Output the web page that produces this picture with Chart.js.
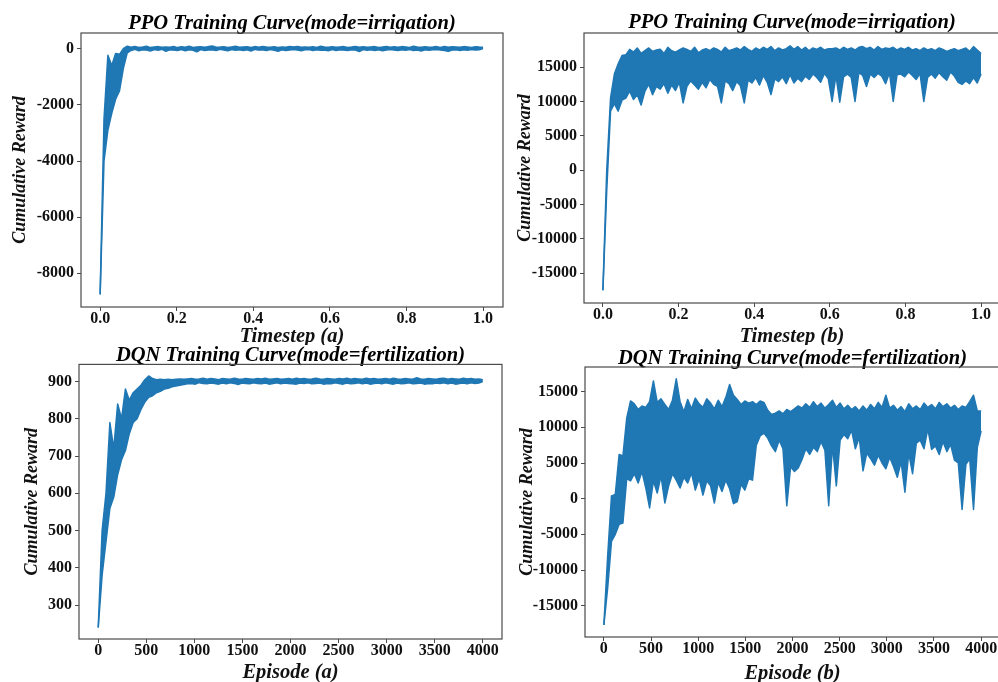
<!DOCTYPE html>
<html>
<head>
<meta charset="utf-8">
<title>Training curves</title>
<script src="https://cdn.jsdelivr.net/npm/chart.js@4.4.1/dist/chart.umd.min.js"></script>
<style>
  html, body { margin: 0; padding: 0; background: #fff; overflow: hidden; }
  body { width: 998px; height: 682px; position: relative; }
  canvas { position: absolute; }
</style>
</head>
<body>
<canvas id="ppoA" width="510" height="345" style="left:0;top:0"></canvas>
<canvas id="ppoB" width="510" height="345" style="left:500px;top:0"></canvas>
<canvas id="dqnA" width="510" height="342" style="left:0;top:340px"></canvas>
<canvas id="dqnB" width="510" height="342" style="left:500px;top:340px"></canvas>
<script>
// tick values
const timestepTicks = [0, 0.2, 0.4, 0.6, 0.8, 1.0];
const episodeTicks = [0, 500, 1000, 1500, 2000, 2500, 3000, 3500, 4000];
const ppoAYTicks = [-8000, -6000, -4000, -2000, 0];
const ppoBYTicks = [-15000, -10000, -5000, 0, 5000, 10000, 15000];
const dqnAYTicks = [300, 400, 500, 600, 700, 800, 900];
const dqnBYTicks = [-15000, -10000, -5000, 0, 5000, 10000, 15000];

// cumulative reward: top and bottom of the noisy trace,
// 100 evenly spaced samples along x for each panel
const ppoAHigh = [
  -8750, -2500, -230, -600, -170, -200, 0, 90, 55, 80,
  45, 65, 90, 40, 60, 75, 50, 65, 55, 80,
  40, 70, 55, 85, 45, 60, 70, 50, 75, 95,
  55, 60, 70, 40, 65, 85, 50, 60, 70, 45,
  75, 55, 80, 60, 50, 70, 45, 65, 55, 75,
  60, 80, 50, 65, 55, 70, 45, 85, 60, 50,
  70, 55, 65, 75, 45, 60, 80, 55, 70, 50,
  65, 75, 45, 60, 80, 55, 70, 50, 75, 60,
  45, 85, 65, 55, 70, 50, 60, 75, 45, 80,
  55, 70, 60, 50, 75, 65, 45, 70, 60, 55
];
const ppoALow = [
  -8750, -4000, -2900, -2300, -1800, -1500, -700, -150, -60, -20,
  -70, -40, -50, -80, -30, -55, -20, -90, -35, -50,
  -60, -25, -70, -40, -55, -110, -30, -60, -45, -35,
  -65, -20, -50, -75, -30, -55, -40, -60, -35, -80,
  -25, -50, -40, -65, -30, -55, -90, -35, -60, -45,
  -30, -50, -70, -40, -25, -60, -35, -55, -45, -75,
  -30, -60, -40, -50, -65, -35, -45, -100, -30, -55,
  -40, -60, -35, -70, -45, -30, -50, -65, -40, -55,
  -30, -60, -45, -80, -35, -55, -40, -30, -50, -65,
  -95, -45, -35, -60, -40, -55, -30, -50, -40, 10
];

const ppoBHigh = [
  -17500, 0, 10500, 14000, 15500, 16700, 16800, 17600, 17200, 17800,
  17000, 17400, 17800, 17300, 17500, 17600, 17000, 17900, 17400, 17200,
  17500, 17800, 17600, 17300, 17900, 17100, 17500, 17700, 17400, 17800,
  17600, 17200, 17900, 17400, 17600, 17800, 17500, 18000, 17600, 17300,
  17800, 17500, 17900, 17600, 18000, 17400, 17800, 17500, 17700, 18100,
  17600, 18000, 17500, 17900, 17400, 17800, 17600, 17900, 17500, 17700,
  17700, 17800, 17500, 17900, 17600, 17800, 17500, 17900, 18000, 17700,
  17900, 17500, 18000, 17600, 17800, 17700, 17900, 17500, 17800, 17600,
  17900, 17500, 17700, 17400, 17800, 17500, 17700, 17400, 17800, 17600,
  17300, 17500, 17700, 17400, 17600, 17800, 17300, 18000, 17500, 17000
];
const ppoBLow = [
  -17500, -3000, 8600, 9700, 8600, 10200, 10500, 11500, 10300, 11000,
  9500, 11500, 12500, 11000, 12200, 11800, 12600, 11200, 12400, 11600,
  12800, 9800, 12200, 13000, 12400, 11800, 12800, 12000, 13200, 12500,
  12200, 9800, 13000, 12600, 11600, 12900, 12300, 9800, 13100, 12700,
  13500, 12400, 13800, 12800, 11000, 13300, 12900, 13600, 12600, 13900,
  12700, 13400, 12900, 13700, 13200, 14000, 13500, 12800, 14100, 13300,
  10000, 13800, 9900, 13600, 14000, 13500, 10000, 14200, 13800, 12200,
  14000, 13500, 14100, 13700, 12600, 14200, 10000, 13900, 14000, 13600,
  14300, 13800, 13200, 14100, 10000, 13500, 14000, 13400, 14200, 13600,
  13100, 14300, 13700, 12800, 12500, 13000, 12600, 13500, 12700, 14000
];

const dqnAHigh = [
  240, 500, 600, 790, 720, 840, 800, 880, 850, 870,
  880, 890, 905, 915, 908, 905, 906, 905, 906, 905,
  906, 907, 906, 907, 908, 906, 907, 909, 906, 908,
  907, 905, 908, 907, 906, 909, 907, 906, 908, 907,
  906, 908, 907, 909, 906, 907, 908, 906, 907, 908,
  906, 909, 907, 908, 906, 907, 909, 907, 906, 908,
  907, 906, 908, 907, 909, 906, 908, 907, 906, 909,
  907, 908, 906, 907, 908, 906, 909, 907, 906, 908,
  907, 906, 910, 907, 906, 908, 907, 906, 908, 909,
  906, 908, 907, 906, 909, 907, 908, 906, 907, 905
];
const dqnALow = [
  240, 380, 470, 560, 590, 650, 690, 715, 760, 790,
  800, 825, 845, 858, 862, 870, 874, 880, 882, 886,
  888, 890, 892, 894, 895, 893, 897, 895, 894, 896,
  895, 893, 896, 894, 897, 895, 892, 896, 895, 894,
  897, 895, 894, 896, 893, 895, 897, 894, 896, 895,
  894, 893, 896, 895, 897, 894, 895, 896, 893, 895,
  894, 897, 895, 893, 896, 894, 895, 897, 894, 896,
  893, 895, 896, 894, 897, 895, 893, 896, 894, 895,
  897, 894, 895, 896, 893, 895, 894, 896, 895, 897,
  894, 896, 893, 895, 896, 894, 897, 895, 896, 900
];

const dqnBHigh = [
  -17700, -8000, 400, 600, 6200, 6000, 11300, 13700, 13300, 12500,
  13000, 12800, 13600, 16500, 13500, 14000, 13200, 12500, 13800, 16800,
  13600, 12200, 13900, 12600, 14100, 13300, 12800, 14000, 13400, 12600,
  13800, 12900, 14200, 16000, 14500, 13900, 13200, 13700, 13400, 13600,
  13200, 13700, 13500, 12400, 11800, 12000, 12300, 11900, 12500, 12200,
  12600, 13000, 12700, 13300, 12800, 13600, 12900, 13400, 12700, 13200,
  13800, 12800, 13400, 12600, 13100, 12500, 12900, 12300, 13000, 12400,
  13200, 12600, 13500, 12800, 14500, 12700, 13100, 12400, 12900, 12200,
  13300, 12600, 13000, 12500, 13400, 12800, 13200, 12600, 13500, 12900,
  13300, 12700, 13100, 12500, 13000, 12800, 13600, 14500, 12300, 12300
];
const dqnBLow = [
  -17700, -12500, -6000, -5000, -3600, -3400, 2800, 2500, 3500, 2200,
  3800, 1500, -1300, 2500, 800, 3200, -600, 1800, 3500, 2600,
  1500, 3000, 2200, 3600, 1200, 2800, 500, 2500, 1800, -600,
  2300, 1000, 2600, 1400, -700, -400, 2000, 1200, 2800, 2600,
  7500, 8800, 9200, 8500, 7400, 6600, 8200, 7000, -1000, 4500,
  3800, 4300, 5500, 7000, 6200, 7200, 6600, 8000, 6800, -1000,
  7500, 1800, 8200, 9000, 8400, 9600, 7000, 8600, 3900, 6400,
  5600, 4700, 6100, 5000, 4200, 5800, 4500, 3000, 5200, 900,
  6400, 3500, 7800, 8200, 7000, 9800, 6900, 7400, 6200, 8000,
  6600, 7600, 5400, 5000, -1500, 4800, 5600, -1500, 7200, 9500
];

const BLUE = '#1f77b4';
const SERIF = "'Liberation Serif', 'Times New Roman', serif";
const EDGE = '#4a4a4a';

const frame = {
  id: 'frame',
  afterDraw(chart) {
    const { ctx, chartArea: a } = chart;
    ctx.save();
    ctx.strokeStyle = EDGE;
    ctx.lineWidth = 1.2;
    ctx.strokeRect(a.left, a.top, a.right - a.left, a.bottom - a.top);
    ctx.restore();
  }
};

function toPoints(values, xLast) {
  return values.map((y, i) => ({ x: i * xLast / (values.length - 1), y }));
}

function panel(p) {
  const tickFont = { family: SERIF, size: 16, weight: 'bold', lineHeight: 1 };
  const titleFont = { family: SERIF, size: 20.5, weight: 'bold', style: 'italic', lineHeight: 0.8 };
  const yLabelFont = { family: SERIF, size: 18, weight: 'bold', style: 'italic' };
  const grid = { display: true, drawOnChartArea: false, drawTicks: true, tickLength: 4, color: EDGE };
  const trace = {
    borderColor: BLUE,
    backgroundColor: BLUE,
    borderWidth: 1.5,
    borderJoinStyle: 'round',
    pointRadius: 0,
    tension: 0
  };

  new Chart(document.getElementById(p.id), {
    type: 'line',
    data: {
      datasets: [
        Object.assign({ data: toPoints(p.high, p.xLast), fill: false }, trace),
        Object.assign({ data: toPoints(p.low, p.xLast), fill: '-1' }, trace)
      ]
    },
    options: {
      responsive: false,
      animation: false,
      layout: { padding: { left: 0, right: p.padRight, top: 0, bottom: 0 } },
      plugins: {
        legend: { display: false },
        tooltip: { enabled: false },
        title: {
          display: true,
          text: p.title,
          fullSize: false,
          color: '#000',
          font: titleFont,
          padding: p.titlePad
        }
      },
      scales: {
        x: {
          type: 'linear',
          min: p.xMin,
          max: p.xMax,
          grid: grid,
          border: { display: false },
          afterFit: s => { s.height = p.xHeight; },
          afterBuildTicks: s => { s.ticks = p.xTicks.map(v => ({ value: v })); },
          ticks: {
            color: '#111',
            font: tickFont,
            padding: 0,
            maxRotation: 0,
            callback: p.xFormat
          },
          title: { display: true, text: p.xTitle, color: '#111', font: titleFont, padding: { top: 0, bottom: p.xTitleBottom } }
        },
        y: {
          type: 'linear',
          min: p.yMin,
          max: p.yMax,
          grid: grid,
          border: { display: false },
          afterFit: s => { s.width = p.yWidth; },
          afterBuildTicks: s => { s.ticks = p.yTicks.map(v => ({ value: v })); },
          ticks: {
            color: '#111',
            font: tickFont,
            padding: 3,
            callback: v => String(v)
          },
          title: { display: true, text: 'Cumulative Reward', color: '#111', font: yLabelFont, padding: { top: p.yTitleLeft, bottom: 0 } }
        }
      }
    },
    plugins: [frame]
  });
}

panel({
  id: 'ppoA', high: ppoAHigh, low: ppoALow, xLast: 1,
  title: 'PPO Training Curve(mode=irrigation)', xTitle: 'Timestep (a)',
  xMin: -0.05, xMax: 1.052, xTicks: timestepTicks, xFormat: v => v.toFixed(1),
  yMin: -9200, yMax: 560, yTicks: ppoAYTicks,
  yWidth: 81, xHeight: 38, padRight: 7,
  titlePad: { top: 15.8, bottom: 0.8 }, xTitleBottom: 0, yTitleLeft: 10
});

panel({
  id: 'ppoB', high: ppoBHigh, low: ppoBLow, xLast: 1,
  title: 'PPO Training Curve(mode=irrigation)', xTitle: 'Timestep (b)',
  xMin: -0.05, xMax: 1.05, xTicks: timestepTicks, xFormat: v => v.toFixed(1),
  yMin: -19350, yMax: 19980, yTicks: ppoBYTicks,
  yWidth: 84, xHeight: 42, padRight: 10,
  titlePad: { top: 14.8, bottom: 1.8 }, xTitleBottom: 0, yTitleLeft: 14.5
});

panel({
  id: 'dqnA', high: dqnAHigh, low: dqnALow, xLast: 4000,
  title: 'DQN Training Curve(mode=fertilization)', xTitle: 'Episode (a)',
  xMin: -200, xMax: 4200, xTicks: episodeTicks, xFormat: v => String(v),
  yMin: 209, yMax: 946, yTicks: dqnAYTicks,
  yWidth: 79, xHeight: 43, padRight: 8,
  titlePad: { top: 8, bottom: 0 }, xTitleBottom: 0.8, yTitleLeft: 21.5
});

panel({
  id: 'dqnB', high: dqnBHigh, low: dqnBLow, xLast: 4000,
  title: 'DQN Training Curve(mode=fertilization)', xTitle: 'Episode (b)',
  xMin: -200, xMax: 4200, xTicks: episodeTicks, xFormat: v => String(v),
  yMin: -19390, yMax: 18460, yTicks: dqnBYTicks,
  yWidth: 85, xHeight: 45, padRight: 10,
  titlePad: { top: 10.1, bottom: 0.5 }, xTitleBottom: 0.3, yTitleLeft: 17
});
</script>
</body>
</html>
